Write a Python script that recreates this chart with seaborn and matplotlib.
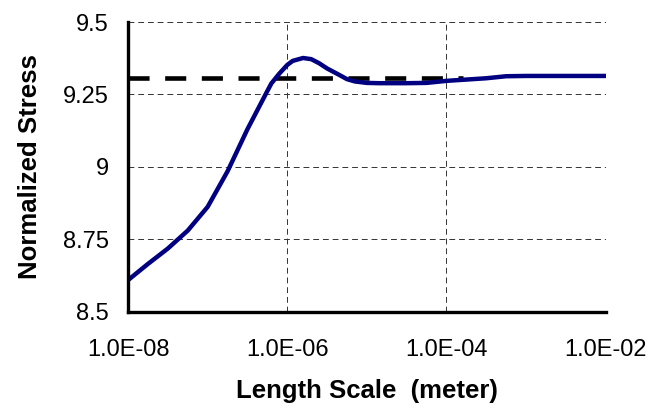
import matplotlib
matplotlib.use("Agg")
import matplotlib.pyplot as plt
import matplotlib.ticker as mticker
import seaborn as sns
import pandas as pd

# length scale (m) and normalized stress
length_scale = [1e-8, 1.78e-8, 3.16e-8, 5.62e-8, 1e-7, 1.78e-7, 3.16e-7, 5.62e-7,
                6.31e-7, 7.94e-7, 1e-6, 1.17e-6, 1.58e-6, 2e-6, 2.51e-6, 3.16e-6,
                4.47e-6, 5.62e-6, 7.08e-6, 1e-5, 1.41e-5, 3.16e-5, 5.62e-5,
                1e-4, 3.16e-4, 5.62e-4, 1e-3, 3.16e-3, 1e-2]
norm_stress = [8.609, 8.665, 8.718, 8.780, 8.862, 8.985, 9.130, 9.262,
               9.288, 9.322, 9.352, 9.366, 9.376, 9.372, 9.358, 9.340,
               9.318, 9.303, 9.295, 9.290, 9.289, 9.289, 9.290,
               9.297, 9.306, 9.313, 9.314, 9.314, 9.314]

# reference (asymptotic) stress, dashed
ref_x = [1e-8, 1.6e-4]
ref_y = [9.308, 9.308]

x_ticks = [1e-8, 1e-6, 1e-4, 1e-2]
x_labels = ["1.0E-08", "1.0E-06", "1.0E-04", "1.0E-02"]
y_ticks = [8.5, 8.75, 9, 9.25, 9.5]

sns.set_style("white")
plt.rcParams['font.family'] = ['Liberation Sans', 'DejaVu Sans']
plt.rcParams.update({"text.color": "black", "axes.labelcolor": "black",
                     "xtick.color": "black", "ytick.color": "black"})

df = pd.DataFrame({"x": length_scale, "y": norm_stress})

fig = plt.figure(figsize=(6.67, 4.09), dpi=100)
ax = fig.add_axes([0.192, 0.238, 0.716, 0.708])

ax.plot(ref_x, ref_y, color="black", lw=3.3, linestyle=(0, (4.6, 3.4)), zorder=3)
sns.lineplot(data=df, x="x", y="y", ax=ax, color="#000080", lw=3.2, zorder=4)

ax.set_xscale("log")
ax.set_xlim(1e-8, 1e-2)
ax.set_ylim(8.5, 9.5)
ax.xaxis.set_major_locator(mticker.FixedLocator(x_ticks))
ax.xaxis.set_major_formatter(mticker.FixedFormatter(x_labels))
ax.xaxis.set_minor_locator(mticker.NullLocator())
ax.set_yticks(y_ticks)
ax.yaxis.set_major_formatter(mticker.FuncFormatter(lambda v, p: "{:g}".format(v)))

ax.grid(True, color="#333333", linestyle=(0, (6, 4)), linewidth=0.7)
for s in ["top", "right"]:
    ax.spines[s].set_visible(False)
for s in ["left", "bottom"]:
    ax.spines[s].set_linewidth(2.4)
    ax.spines[s].set_color("black")
    ax.spines[s].set_zorder(5)

ax.tick_params(axis="x", direction="in", length=5, width=2.4, labelsize=17, pad=20)
ax.tick_params(axis="y", direction="in", length=5, width=2.4, labelsize=17, pad=14)

ax.set_xlabel("Length Scale  (meter)", fontsize=18.5, fontweight="bold", labelpad=13)
ax.set_ylabel("Normalized Stress", fontsize=18.5, fontweight="bold", labelpad=15)

fig.savefig("out.png", dpi=100)
